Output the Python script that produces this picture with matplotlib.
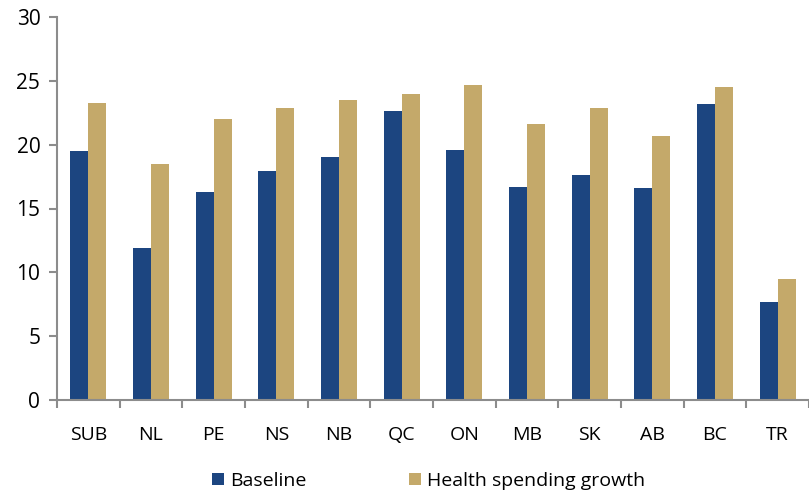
import numpy as np
import matplotlib
matplotlib.use('Agg')
import matplotlib.pyplot as plt

regions = ['SUB', 'NL', 'PE', 'NS', 'NB', 'QC', 'ON', 'MB', 'SK', 'AB', 'BC', 'TR']
baseline = [19.5, 11.9, 16.3, 17.9, 19.0, 22.6, 19.6, 16.7, 17.6, 16.6, 23.2, 7.7]
health = [23.3, 18.5, 22.0, 22.9, 23.5, 24.0, 24.7, 21.6, 22.9, 20.7, 24.5, 9.5]

navy = '#1C4580'
gold = '#C4A96A'
grey = '#8C8C8C'

plt.rcParams['font.family'] = ['Open Sans', 'DejaVu Sans']

fig = plt.figure(figsize=(8.09, 4.95), dpi=100)
ax = fig.add_axes([57 / 809, 1 - 400 / 495, 1 - 57 / 809, 383 / 495])

x = np.arange(len(regions))
w = 0.285
ax.bar(x - w / 2, baseline, width=w, color=navy, label='Baseline')
ax.bar(x + w / 2, health, width=w, color=gold, label='Health spending growth')

ax.set_ylim(0, 30)
ax.set_yticks(range(0, 31, 5))
ax.set_xlim(-0.5, 11.4)
ax.set_xticks(x)
ax.set_xticklabels(regions)
ax.set_xticks(np.arange(-0.5, 12, 1), minor=True)
ax.tick_params(axis='x', which='major', length=0, pad=19, labelsize=14)
ax.tick_params(axis='x', which='minor', length=6, color=grey, width=1.5)
ax.tick_params(axis='y', length=6, color=grey, width=1.5, labelsize=15, pad=6)

for s in ['top', 'right']:
    ax.spines[s].set_visible(False)
for s in ['left', 'bottom']:
    ax.spines[s].set_color(grey)
    ax.spines[s].set_linewidth(1.5)

fig.legend(loc='lower center', bbox_to_anchor=(0.53, -0.025), ncol=2, frameon=False,
           fontsize=14, handlelength=0.62, handleheight=0.62, handletextpad=0.3,
           columnspacing=5.3)

plt.savefig('out.png', dpi=100)
